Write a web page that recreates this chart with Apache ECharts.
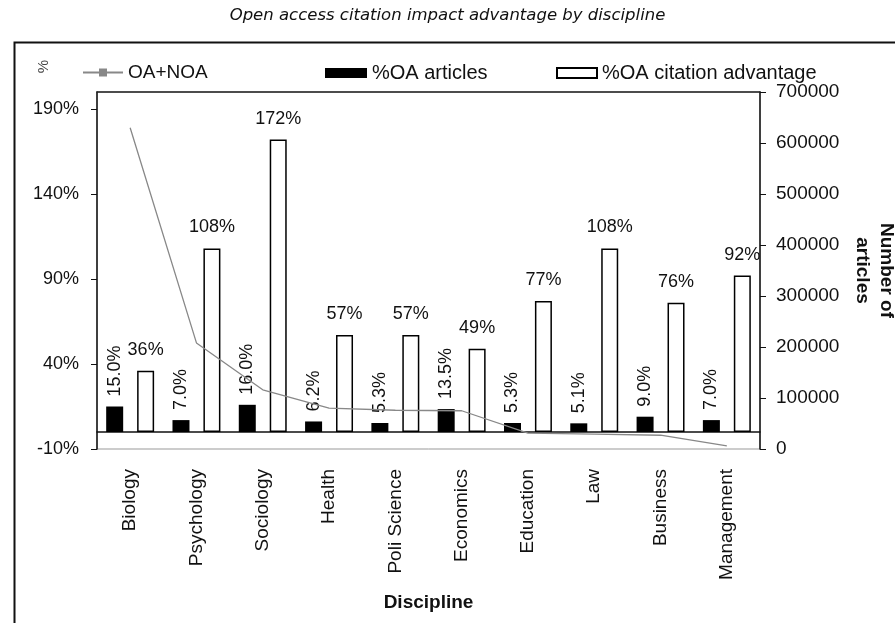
<!DOCTYPE html>
<html>
<head>
<meta charset="utf-8">
<script src="https://cdn.jsdelivr.net/npm/echarts@6/dist/echarts.min.js"></script>
<style>
html,body{margin:0;padding:0;background:#fff;}
#chart{width:895px;height:623px;}
</style>
</head>
<body>
<div id="chart"></div>
<script>
const categories = ['Biology','Psychology','Sociology','Health','Poli Science','Economics','Education','Law','Business','Management'];
const oaArticles = [15.0, 7.0, 16.0, 6.2, 5.3, 13.5, 5.3, 5.1, 9.0, 7.0];
const citationAdvantage = [36, 108, 172, 57, 57, 49, 77, 108, 76, 92];
const totalArticles = [630000, 208000, 116000, 80000, 76000, 75000, 31000, 29000, 27000, 6000];
const leftTicks = [-10, 40, 90, 140, 190];

const FONT = 'Liberation Sans, Arial, sans-serif';
const chart = echarts.init(document.getElementById('chart'), null, {renderer:'canvas'});

chart.setOption({
  animation: false,
  backgroundColor: '#fff',
  textStyle: {fontFamily: FONT, color: '#111'},
  title: {
    text: 'Open access citation impact advantage by discipline',
    left: 'center', top: 2,
    textStyle: {fontFamily: 'DejaVu Sans, sans-serif', fontStyle: 'italic', fontWeight: 'normal', fontSize: 16.5, color: '#111'}
  },
  graphic: [
    {type: 'rect', left: 12, top: 40, shape: {width: 900, height: 600}, style: {fill: 'none', stroke: '#111', lineWidth: 2}, z: -1},
    {type: 'text', left: 36, top: 60, rotation: Math.PI/2, style: {text: '%', font: '15px ' + FONT, fill: '#444'}}
  ],
  legend: [
    {data: ['OA+NOA'], left: 77, top: 58, itemWidth: 40, itemHeight: 10, itemGap: 5,
     textStyle: {fontSize: 19, fontFamily: FONT, color: '#111'}},
    {data: [{name: '%OA articles', icon: 'rect'}], left: 320, top: 58, itemWidth: 42, itemHeight: 10, itemGap: 5,
     textStyle: {fontSize: 20, fontFamily: FONT, color: '#111'}},
    {data: [{name: '%OA citation advantage', icon: 'rect'}], left: 551, top: 58, itemWidth: 40, itemHeight: 10, itemGap: 6,
     textStyle: {fontSize: 20, fontFamily: FONT, color: '#111'}}
  ],
  grid: {left: 97, right: 135, top: 92, bottom: 174, show: true, borderColor: '#999', borderWidth: 1, backgroundColor: '#fff',
         containLabel: false, outerBoundsMode: 'none'},
  xAxis: [
    {
      type: 'category', data: categories, position: 'bottom',
      name: 'Discipline', nameLocation: 'middle', nameGap: 144,
      nameTextStyle: {fontSize: 19, fontWeight: 'bold', fontFamily: FONT, color: '#111'},
      axisLine: {onZero: true, onZeroAxisIndex: 0, lineStyle: {color: '#111', width: 1.5}},
      axisTick: {length: 8, lineStyle: {color: '#111'}},
      axisLabel: {rotate: 90, margin: 20, fontSize: 19, color: '#111', fontFamily: FONT}
    },
    {
      type: 'category', data: categories, position: 'top',
      axisLine: {onZero: false, lineStyle: {color: '#222', width: 1.5}},
      axisTick: {show: false}, axisLabel: {show: false}
    }
  ],
  yAxis: [
    {
      type: 'value', position: 'left', min: -10, max: 200,
      axisLine: {show: true, lineStyle: {color: '#111', width: 1.5}},
      axisTick: {show: true, length: 6, customValues: leftTicks, lineStyle: {color: '#111'}},
      axisLabel: {customValues: leftTicks, formatter: '{value}%', margin: 18, fontSize: 18, color: '#111', fontFamily: FONT},
      splitLine: {show: false}
    },
    {
      type: 'value', position: 'right', min: 0, max: 700000, interval: 100000,
      name: 'Number of\narticles', nameLocation: 'middle', nameRotate: -90, nameGap: 88,
      nameTextStyle: {fontSize: 19, fontWeight: 'bold', fontFamily: FONT, color: '#111', lineHeight: 24},
      axisLine: {show: true, lineStyle: {color: '#111', width: 1.5}},
      axisTick: {show: true, length: 6, lineStyle: {color: '#111'}},
      axisLabel: {margin: 16, fontSize: 19, color: '#111', fontFamily: FONT, formatter: v => String(v)},
      splitLine: {show: false}
    }
  ],
  series: [
    {
      name: 'OA+NOA', type: 'line', yAxisIndex: 1, data: totalArticles,
      symbol: 'rect', symbolSize: 7, showSymbol: false,
      lineStyle: {color: '#888', width: 1.3}, itemStyle: {color: '#888'}, z: 5
    },
    {
      name: '%OA articles', type: 'bar', yAxisIndex: 0, data: oaArticles,
      barWidth: 17, barGap: '82%',
      itemStyle: {color: '#000'},
      label: {show: true, position: 'top', rotate: 90, align: 'left', verticalAlign: 'middle', distance: 10,
              formatter: p => p.value.toFixed(1) + '%', fontSize: 18, color: '#111', fontFamily: FONT}
    },
    {
      name: '%OA citation advantage', type: 'bar', yAxisIndex: 0, data: citationAdvantage,
      barWidth: 17,
      itemStyle: {color: '#fff', borderColor: '#000', borderWidth: 1.5},
      label: {show: true, position: 'top', distance: 12,
              formatter: '{c}%', fontSize: 18, color: '#111', fontFamily: FONT}
    }
  ]
});
</script>
</body>
</html>
